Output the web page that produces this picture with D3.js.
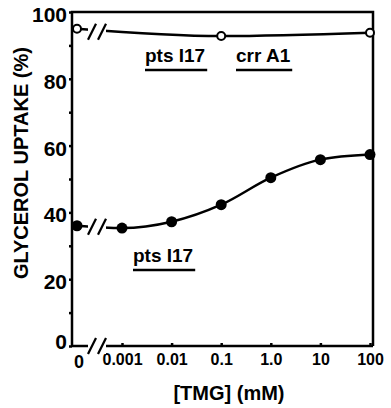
<!DOCTYPE html>
<html>
<head>
<meta charset="utf-8">
<script src="https://cdn.jsdelivr.net/npm/d3@7"></script>
<style>
  body { margin: 0; background: #fff; }
  text { font-family: "Liberation Sans", Arial, sans-serif; font-weight: bold; fill: #000; }
</style>
</head>
<body>
<div id="chart"></div>
<script>
// TMG concentration (mM); 0 sits left of the axis break
const tmgValues = [0, 0.001, 0.01, 0.1, 1, 10, 100];
const tmgLabels = ["0", "0.001", "0.01", "0.1", "1.0", "10", "100"];

// pts I17 (filled circles)
const ptsUptake = [36, 35.3, 37.2, 42.3, 50.4, 55.8, 57.3];
// pts I17 crr A1 (open circles)
const crrTmg = [0, 0.1, 100];
const crrUptake = [95, 92.8, 93.8];

const yTicks = [0, 10, 20, 30, 40, 50, 60, 70, 80, 90, 100];

const W = 391, H = 408;
const plotL = 72, plotR = 373, plotT = 12, plotB = 346;

const svg = d3.select("#chart").append("svg")
    .attr("width", W)
    .attr("height", H);

const y = d3.scaleLinear().domain([0, 100]).range([plotB, plotT]);
const xLog = d3.scaleLog().domain([0.001, 100]).range([122, 370]);
const xZero = 77;
const x = v => v === 0 ? xZero : xLog(v);

// break gap between 0 and 0.001
const gapL = xZero + 11, gapR = xZero + 29;

// frame (left, top, right)
svg.append("path")
    .attr("d", `M${plotL},${plotB} L${plotL},${plotT} L${plotR},${plotT} L${plotR},${plotB}`)
    .attr("fill", "none")
    .attr("stroke", "#000")
    .attr("stroke-width", 2.5);

// bottom axis with break
svg.append("path")
    .attr("d", `M${plotL},${plotB} L${gapL},${plotB} M${gapR},${plotB} L${plotR},${plotB}`)
    .attr("stroke", "#000")
    .attr("stroke-width", 2.5);

// y axis ticks + labels
const yAxis = svg.append("g")
    .attr("transform", `translate(${plotL},0)`)
    .call(d3.axisLeft(y).tickValues(yTicks).tickSize(3)
        .tickFormat(d => d % 20 === 0 ? d : ""));
yAxis.select(".domain").remove();
yAxis.selectAll(".tick line").attr("stroke", "#000").attr("stroke-width", 2.5);
yAxis.selectAll(".tick text")
    .attr("x", -5)
    .attr("dy", d => d === 0 ? "0.1em" : "0.45em")
    .style("font-size", "21px");

// x axis ticks + labels
const xAxis = svg.append("g")
    .attr("transform", `translate(0,${plotB})`)
    .call(d3.axisBottom(xLog).tickValues(tmgValues.slice(1)).tickSize(-3)
        .tickFormat((d, i) => tmgLabels[i + 1]));
xAxis.select(".domain").remove();
xAxis.selectAll(".tick line").attr("stroke", "#000").attr("stroke-width", 2.5);
xAxis.selectAll(".tick text")
    .attr("y", 8)
    .style("font-size", "16px");
svg.append("text")
    .attr("x", xZero + 2)
    .attr("y", plotB + 22)
    .attr("text-anchor", "middle")
    .style("font-size", "18px")
    .text(tmgLabels[0]);

// curves
const line = d3.line().curve(d3.curveMonotoneX);
const ptsPts = tmgValues.map((t, i) => [x(t), y(ptsUptake[i])]);
const crrPts = crrTmg.map((t, i) => [x(t), y(crrUptake[i])]);

[ptsPts, crrPts].forEach(p => {
    svg.append("path")
        .attr("d", line(p))
        .attr("fill", "none")
        .attr("stroke", "#000")
        .attr("stroke-width", 2.5);
});

// white out break gap on the two curves and draw slashes
function breakMarks(cy) {
    svg.append("rect")
        .attr("x", gapL).attr("y", cy - 8)
        .attr("width", gapR - gapL).attr("height", 16)
        .attr("fill", "#fff");
    [gapL + 4, gapR - 4].forEach(cx => {
        svg.append("line")
            .attr("x1", cx - 4).attr("y1", cy + 8)
            .attr("x2", cx + 4).attr("y2", cy - 8)
            .attr("stroke", "#000")
            .attr("stroke-width", 2.2);
    });
}
breakMarks(y(crrUptake[0]) + 3);
breakMarks(y(ptsUptake[0]) + 1);
breakMarks(plotB);

// markers
svg.selectAll("circle.pts")
    .data(ptsPts)
    .join("circle")
    .attr("class", "pts")
    .attr("cx", d => d[0]).attr("cy", d => d[1])
    .attr("r", 5.5)
    .attr("fill", "#000");

svg.selectAll("circle.crr")
    .data(crrPts)
    .join("circle")
    .attr("class", "crr")
    .attr("cx", d => d[0]).attr("cy", d => d[1])
    .attr("r", 4)
    .attr("fill", "#fff")
    .attr("stroke", "#000")
    .attr("stroke-width", 2);

// strain labels, underlined
const strainLabels = [
    {text: "pts I17", x: 145, y: 62},
    {text: "crr A1", x: 236, y: 62},
    {text: "pts I17", x: 133, y: 262}
];
strainLabels.forEach(l => {
    const t = svg.append("text")
        .attr("x", l.x).attr("y", l.y)
        .style("font-size", "19px")
        .text(l.text);
    const w = t.node().getComputedTextLength();
    svg.append("line")
        .attr("x1", l.x).attr("x2", l.x + w + 2)
        .attr("y1", l.y + 8).attr("y2", l.y + 8)
        .attr("stroke", "#000")
        .attr("stroke-width", 2.5);
});

// axis titles
svg.append("text")
    .attr("transform", `translate(28,163) rotate(-90)`)
    .attr("text-anchor", "middle")
    .style("font-size", "20px")
    .text("GLYCEROL UPTAKE (%)");

svg.append("text")
    .attr("x", 229)
    .attr("y", 400)
    .attr("text-anchor", "middle")
    .style("font-size", "20px")
    .text("[TMG] (mM)");
</script>
</body>
</html>
